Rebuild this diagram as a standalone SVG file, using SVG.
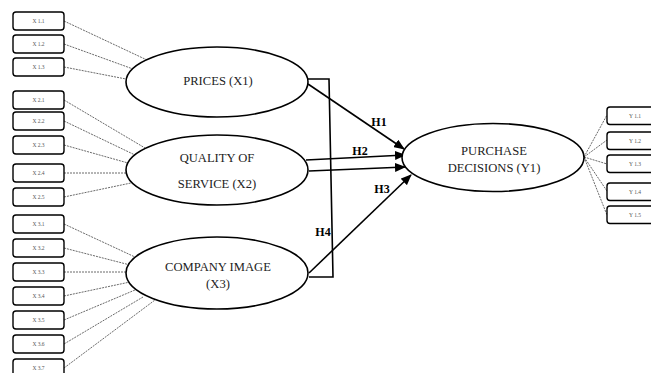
<svg xmlns="http://www.w3.org/2000/svg" width="651" height="373" viewBox="0 0 651 373">
  <style>
    .ind rect { fill: #fff; stroke: #000; stroke-width: 1.4; }
    .ind text { font-family: "Liberation Serif", serif; font-size: 5.5px; fill: #555; text-anchor: middle; }
    .lat ellipse { fill: #fff; stroke: #000; stroke-width: 1.6; }
    .lat text { font-family: "Liberation Serif", serif; font-size: 12.6px; fill: #222; text-anchor: middle; }
    .load line { stroke: #444; stroke-width: 0.8; stroke-dasharray: 2 1; }
    .path line, .path polyline { stroke: #000; stroke-width: 1.6; fill: none; }
    .hl { font-family: "Liberation Serif", serif; font-size: 12px; font-weight: bold; fill: #000; text-anchor: middle; }
  </style>
  <defs>
    <marker id="arrow" markerUnits="userSpaceOnUse" markerWidth="11" markerHeight="9" refX="10" refY="4.5" orient="auto">
      <path d="M0,0 L11,4.5 L0,9 Z" fill="#000"/>
    </marker>
  </defs>
  <rect width="651" height="373" fill="#fff"/>

  <!-- loading lines (indicators to constructs) -->
  <g id="loadings" class="load">
    <line x1="64" y1="21" x2="147" y2="60"/>
    <line x1="64" y1="44" x2="133" y2="69"/>
    <line x1="64" y1="67" x2="126" y2="79"/>
    <line x1="64" y1="100" x2="145" y2="148"/>
    <line x1="64" y1="121" x2="135" y2="155"/>
    <line x1="64" y1="145" x2="128" y2="163"/>
    <line x1="64" y1="173" x2="126" y2="173"/>
    <line x1="64" y1="197" x2="131" y2="183"/>
    <line x1="64" y1="224" x2="135" y2="257"/>
    <line x1="64" y1="248" x2="130" y2="265"/>
    <line x1="64" y1="272" x2="126" y2="272"/>
    <line x1="64" y1="296" x2="130" y2="282"/>
    <line x1="64" y1="320" x2="135" y2="290"/>
    <line x1="64" y1="344" x2="143" y2="297"/>
    <line x1="64" y1="368" x2="155" y2="300"/>
    <line x1="584" y1="157" x2="607" y2="115"/>
    <line x1="584" y1="157" x2="607" y2="140"/>
    <line x1="584" y1="157" x2="607" y2="164"/>
    <line x1="584" y1="157" x2="607" y2="191"/>
    <line x1="584" y1="157" x2="607" y2="215"/>
  </g>

  <!-- structural paths -->
  <g id="paths" class="path">
    <polyline points="308,79 329,79 333,277 309,277"/>
    <line x1="308" y1="84" x2="404" y2="149" marker-end="url(#arrow)"/>
    <line x1="306" y1="160" x2="405" y2="155" marker-end="url(#arrow)"/>
    <line x1="309" y1="171" x2="405" y2="167" marker-end="url(#arrow)"/>
    <line x1="309" y1="273" x2="411" y2="175" marker-end="url(#arrow)"/>
  </g>
  <g id="path-labels">
    <text class="hl" x="379" y="126">H1</text>
    <text class="hl" x="360" y="155">H2</text>
    <text class="hl" x="382" y="193">H3</text>
    <text class="hl" x="323" y="236">H4</text>
  </g>

  <!-- indicators of X1 -->
  <g id="x11" class="ind"><rect x="13" y="12" width="51" height="18" rx="3"/><text x="38.5" y="23">X 1.1</text></g>
  <g id="x12" class="ind"><rect x="13" y="35" width="51" height="18" rx="3"/><text x="38.5" y="46">X 1.2</text></g>
  <g id="x13" class="ind"><rect x="13" y="58" width="51" height="18" rx="3"/><text x="38.5" y="69">X 1.3</text></g>
  <!-- indicators of X2 -->
  <g id="x21" class="ind"><rect x="13" y="91" width="51" height="18" rx="3"/><text x="38.5" y="102">X 2.1</text></g>
  <g id="x22" class="ind"><rect x="13" y="112" width="51" height="18" rx="3"/><text x="38.5" y="123">X 2.2</text></g>
  <g id="x23" class="ind"><rect x="13" y="136" width="51" height="18" rx="3"/><text x="38.5" y="147">X 2.3</text></g>
  <g id="x24" class="ind"><rect x="13" y="164" width="51" height="18" rx="3"/><text x="38.5" y="175">X 2.4</text></g>
  <g id="x25" class="ind"><rect x="13" y="188" width="51" height="18" rx="3"/><text x="38.5" y="199">X 2.5</text></g>
  <!-- indicators of X3 -->
  <g id="x31" class="ind"><rect x="13" y="215" width="51" height="18" rx="3"/><text x="38.5" y="226">X 3.1</text></g>
  <g id="x32" class="ind"><rect x="13" y="239" width="51" height="18" rx="3"/><text x="38.5" y="250">X 3.2</text></g>
  <g id="x33" class="ind"><rect x="13" y="263" width="51" height="18" rx="3"/><text x="38.5" y="274">X 3.3</text></g>
  <g id="x34" class="ind"><rect x="13" y="287" width="51" height="18" rx="3"/><text x="38.5" y="298">X 3.4</text></g>
  <g id="x35" class="ind"><rect x="13" y="311" width="51" height="18" rx="3"/><text x="38.5" y="322">X 3.5</text></g>
  <g id="x36" class="ind"><rect x="13" y="335" width="51" height="18" rx="3"/><text x="38.5" y="346">X 3.6</text></g>
  <g id="x37" class="ind"><rect x="13" y="359" width="51" height="18" rx="3"/><text x="38.5" y="370">X 3.7</text></g>
  <!-- indicators of Y1 -->
  <g id="y11" class="ind"><rect x="607" y="107" width="54" height="17.5" rx="3"/><text x="635" y="118">Y 1.1</text></g>
  <g id="y12" class="ind"><rect x="607" y="132" width="54" height="17.5" rx="3"/><text x="635" y="143">Y 1.2</text></g>
  <g id="y13" class="ind"><rect x="607" y="155" width="54" height="17.5" rx="3"/><text x="635" y="166">Y 1.3</text></g>
  <g id="y14" class="ind"><rect x="607" y="183" width="54" height="17.5" rx="3"/><text x="635" y="194">Y 1.4</text></g>
  <g id="y15" class="ind"><rect x="607" y="206" width="54" height="17.5" rx="3"/><text x="635" y="217">Y 1.5</text></g>

  <!-- latent constructs -->
  <g id="prices" class="lat">
    <ellipse cx="217" cy="82" rx="91" ry="35"/>
    <text x="218" y="85">PRICES (X1)</text>
  </g>
  <g id="quality" class="lat">
    <ellipse cx="217" cy="170" rx="91" ry="35"/>
    <text x="217" y="162">QUALITY OF</text>
    <text x="217" y="188">SERVICE (X2)</text>
  </g>
  <g id="image" class="lat">
    <ellipse cx="217" cy="273" rx="91" ry="36"/>
    <text x="218" y="271">COMPANY IMAGE</text>
    <text x="218" y="288">(X3)</text>
  </g>
  <g id="purchase" class="lat">
    <ellipse cx="493" cy="157.5" rx="91" ry="34"/>
    <text x="494" y="155">PURCHASE</text>
    <text x="494" y="172">DECISIONS (Y1)</text>
  </g>
</svg>
